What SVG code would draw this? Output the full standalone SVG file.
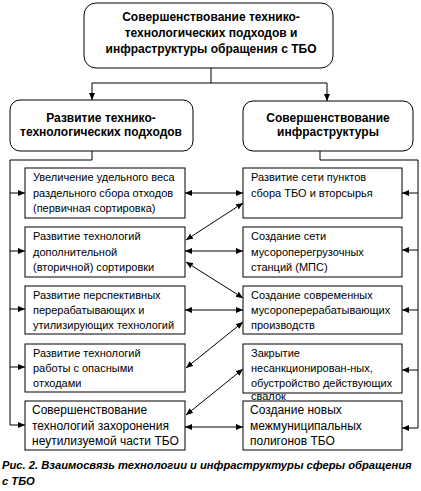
<svg xmlns="http://www.w3.org/2000/svg" width="421" height="491" viewBox="0 0 421 491">
<style>
text{font-family:'Liberation Sans',Arial,sans-serif;fill:#000}
.b{fill:#fff;stroke:#000;stroke-width:1}
.t{font-size:11px}
.tb{font-size:12px;font-weight:bold;text-anchor:middle}
.th{font-size:12px}
.tl{font-size:12px}
.c{fill:none;stroke:#000;stroke-width:1}
.cap{font-size:11.2px;font-weight:bold;font-style:italic}
</style>
<defs>
<marker id="a" viewBox="0 0 7 6" refX="7" refY="3" markerWidth="7" markerHeight="6" orient="auto-start-reverse" markerUnits="userSpaceOnUse"><path d="M0,0L7,3L0,6z" fill="#000"/></marker>
</defs>
<rect width="421" height="491" fill="#fff"/>
<g id="connectors">
<path class="c" d="M211,68V83M92,83H327"/>
<path class="c" d="M92,83V100" marker-end="url(#a)"/>
<path class="c" d="M327,83V101" marker-end="url(#a)"/>
<path class="c" d="M92,151V160H10V425"/>
<path class="c" d="M10,193H25" marker-end="url(#a)"/>
<path class="c" d="M10,251H25" marker-end="url(#a)"/>
<path class="c" d="M10,309H25" marker-end="url(#a)"/>
<path class="c" d="M10,367H25" marker-end="url(#a)"/>
<path class="c" d="M10,425H25" marker-end="url(#a)"/>
<path class="c" d="M320,151V160H418V428"/>
<path class="c" d="M418,193H402" marker-end="url(#a)"/>
<path class="c" d="M418,250H402" marker-end="url(#a)"/>
<path class="c" d="M418,310H402" marker-end="url(#a)"/>
<path class="c" d="M418,370H402" marker-end="url(#a)"/>
<path class="c" d="M418,428H402" marker-end="url(#a)"/>
<path class="c" d="M185,193H243" marker-start="url(#a)" marker-end="url(#a)"/>
<path class="c" d="M185,251H243" marker-start="url(#a)" marker-end="url(#a)"/>
<path class="c" d="M185,310H243" marker-start="url(#a)" marker-end="url(#a)"/>
<path class="c" d="M185,427H243" marker-start="url(#a)" marker-end="url(#a)"/>
<path class="c" d="M186,240L243,203" marker-start="url(#a)" marker-end="url(#a)"/>
<path class="c" d="M186,262L243,298" marker-start="url(#a)" marker-end="url(#a)"/>
<path class="c" d="M243,322L186,368" marker-start="url(#a)" marker-end="url(#a)"/>
<path class="c" d="M243,369L186,415" marker-start="url(#a)" marker-end="url(#a)"/>
</g>
<g id="top">
<rect class="b" x="84" y="3" width="249" height="65" rx="12"/>
<text class="tb" x="211" y="21">Совершенствование технико-</text>
<text class="tb" x="211" y="37">технологических подходов и</text>
<text class="tb" x="211" y="53">инфраструктуры обращения с ТБО</text>
</g>
<g id="left-head">
<rect class="b" x="10" y="100" width="183" height="51" rx="10"/>
<text class="tb th" x="101" y="122">Развитие технико-</text>
<text class="tb th" x="101" y="136">технологических подходов</text>
</g>
<g id="right-head">
<rect class="b" x="243" y="101" width="170" height="50" rx="10"/>
<text class="tb th" x="328" y="122">Совершенствование</text>
<text class="tb th" x="328" y="136">инфраструктуры</text>
</g>
<g id="l1">
<rect class="b" x="25" y="168" width="160" height="50"/>
<text class="t" x="33" y="181">Увеличение удельного веса</text>
<text class="t" x="33" y="197">раздельного сбора отходов</text>
<text class="t" x="33" y="212">(первичная сортировка)</text>
</g>
<g id="l2">
<rect class="b" x="25" y="227" width="160" height="50"/>
<text class="t" x="33" y="240">Развитие технологий</text>
<text class="t" x="33" y="256">дополнительной</text>
<text class="t" x="33" y="271">(вторичной) сортировки</text>
</g>
<g id="l3">
<rect class="b" x="25" y="286" width="160" height="48"/>
<text class="t" x="33" y="299">Развитие перспективных</text>
<text class="t" x="33" y="314">перерабатывающих и</text>
<text class="t" x="33" y="329">утилизирующих технологий</text>
</g>
<g id="l4">
<rect class="b" x="25" y="344" width="160" height="48"/>
<text class="t" x="33" y="357">Развитие технологий</text>
<text class="t" x="33" y="372">работы с опасными</text>
<text class="t" x="33" y="387">отходами</text>
</g>
<g id="l5">
<rect class="b" x="25" y="401" width="160" height="49"/>
<text class="tl" x="32" y="414">Совершенствование</text>
<text class="tl" x="32" y="430">технологий захоронения</text>
<text class="tl" x="32" y="445">неутилизуемой части ТБО</text>
</g>
<g id="r1">
<rect class="b" x="243" y="168" width="159" height="50"/>
<text class="t" x="251" y="181">Развитие сети пунктов</text>
<text class="t" x="251" y="197">сбора ТБО и вторсырья</text>
</g>
<g id="r2">
<rect class="b" x="243" y="227" width="159" height="50"/>
<text class="t" x="251" y="240">Создание сети</text>
<text class="t" x="251" y="256">мусороперегрузочных</text>
<text class="t" x="251" y="271">станций (МПС)</text>
</g>
<g id="r3">
<rect class="b" x="243" y="286" width="159" height="48"/>
<text class="t" x="251" y="299">Создание современных</text>
<text class="t" x="251" y="314">мусороперерабатывающих</text>
<text class="t" x="251" y="329">производств</text>
</g>
<g id="r4">
<rect class="b" x="243" y="344" width="159" height="49"/>
<text class="t" x="251" y="357">Закрытие</text>
<text class="t" x="251" y="372">несанкционирован-ных,</text>
<text class="t" x="251" y="387">обустройство действующих</text>
<text class="t" x="251" y="400" font-size="10">свалок</text>
</g>
<g id="r5">
<rect class="b" x="243" y="401" width="159" height="49"/>
<text class="tl" x="250" y="414">Создание новых</text>
<text class="tl" x="250" y="430">межмуниципальных</text>
<text class="tl" x="250" y="445">полигонов ТБО</text>
</g>
<g id="caption">
<text class="cap" x="2" y="469">Рис. 2. Взаимосвязь технологии и инфраструктуры сферы обращения</text>
<text class="cap" x="2" y="485">с ТБО</text>
</g>
</svg>
